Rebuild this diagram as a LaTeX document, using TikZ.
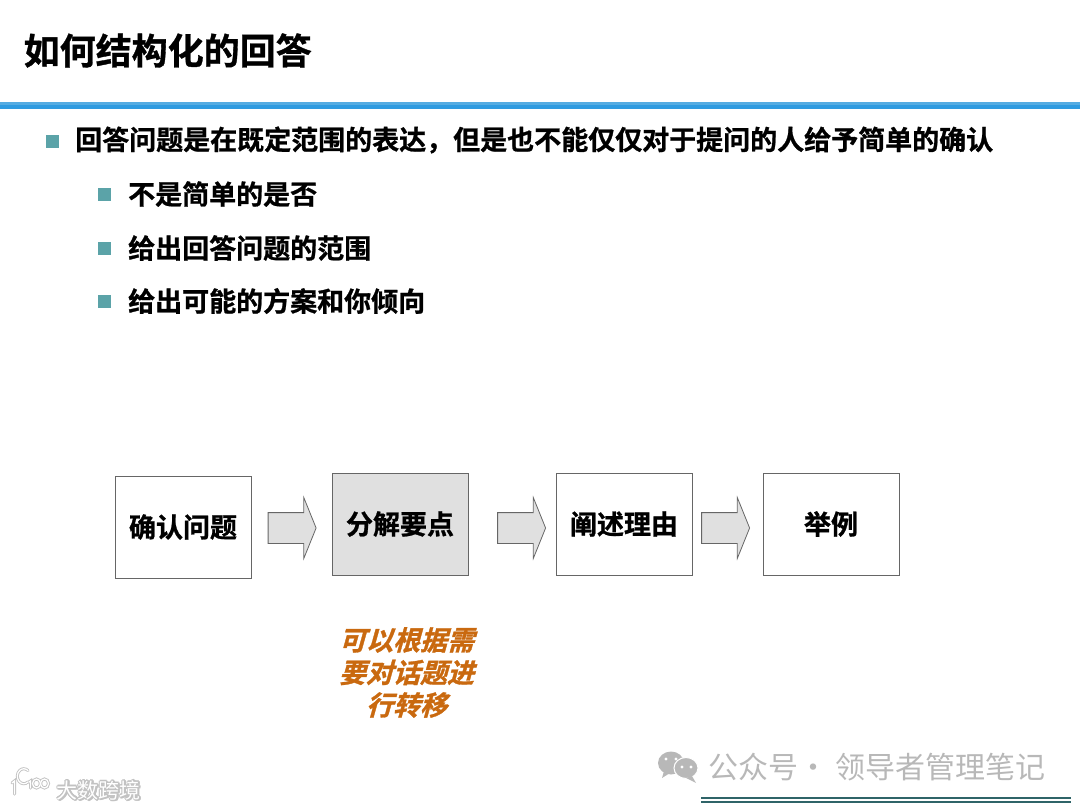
\documentclass[tikz,border=0pt]{standalone}
\usepackage{fontspec}
\setmainfont{Noto Sans CJK SC}[BoldFont={* Bold},BoldFeatures={FakeBold=0.9}]
\newfontfamily\cjkslant{Noto Sans CJK SC Bold}[FakeSlant=0.28,FakeBold=1.1]
\usetikzlibrary{shapes.arrows,positioning}
\definecolor{rulelight}{HTML}{55ACE2}
\definecolor{ruleblue}{HTML}{2F9BE0}
\definecolor{ruledark}{HTML}{2F6468}
\definecolor{bulletteal}{HTML}{5BA3A8}
\definecolor{boxedge}{HTML}{666666}
\definecolor{boxgray}{HTML}{E0E0E0}
\definecolor{talkorange}{HTML}{C9690F}
\definecolor{markgray}{HTML}{B8B8B8}
\tikzset{
  headline/.style={anchor=west, inner sep=0pt, font=\fontsize{36}{36}\selectfont\bfseries, text=black},
  bulletline/.style={anchor=west, inner sep=0pt, font=\fontsize{27}{27}\selectfont\bfseries, text=black},
  bulletsq/.style={fill=bulletteal, draw=none, minimum size=13pt, inner sep=0pt},
  stepbox/.style={draw=boxedge, line width=0.9pt, minimum width=136pt, minimum height=102pt,
    inner sep=0pt, font=\fontsize{27}{27}\selectfont\bfseries, text=black},
  blockarrow/.style={shape=single arrow, draw=boxedge, fill=boxgray, line width=0.8pt,
    minimum height=48pt, minimum width=60pt, inner sep=0pt,
    single arrow head extend=15pt, single arrow tip angle=136},
  talknote/.style={align=center, inner sep=0pt, text=talkorange,
    font=\fontsize{27}{32.5}\selectfont\cjkslant},
  markline/.style={anchor=west, inner sep=0pt, text=markgray, font=\fontsize{30}{30}\selectfont},
  logoshade/.style={inner sep=0pt, text=black!24, font=\fontsize{21}{21}\selectfont\bfseries},
  logoface/.style={inner sep=0pt, text=white, font=\fontsize{21}{21}\selectfont},
  logolineunder/.style={draw=black!25, line width=3pt, line cap=round},
  logolinetop/.style={draw=white, line width=1.3pt, line cap=round},
}
\begin{document}
\begin{tikzpicture}[x=1pt,y=-1pt]
  \useasboundingbox (0,0) rectangle (1080,810);
  % title and rule
  \node[headline] (title) at (23.5,50.5) {如何结构化的回答};
  \fill[rulelight] (0,102.5) rectangle (1080,104.7);
  \fill[ruleblue] (0,105.3) rectangle (1080,109);
  % bullets
  \node[bulletsq] (mainsq) at (52,141.5) {};
  \node[bulletline] (mainline) at (75,140) {回答问题是在既定范围的表达^^^^ff0c但是也不能仅仅对于提问的人给予简单的确认};
  \foreach \n/\y/\t in {a/194/不是简单的是否,b/248/给出回答问题的范围,c/301/给出可能的方案和你倾向} {
    \node[bulletsq] (subsq\n) at (104.5,\y+0.5) {};
    \node[bulletline] (subline\n) at (128,\y) {\t};
  }
  % steps
  \node[stepbox] (confirm) at (183,527) {确认问题};
  \node[stepbox, fill=boxgray] (split) at (400,524) {分解要点};
  \node[stepbox] (reason) at (624,524) {阐述理由};
  \node[stepbox] (sample) at (831,524) {举例};
  \node[blockarrow] (arrowa) at (289,528) {\rule{0pt}{30pt}};
  \node[blockarrow] (arrowb) at (518.5,528) {\rule{0pt}{30pt}};
  \node[blockarrow] (arrowc) at (722.5,528) {\rule{0pt}{30pt}};
  \node[talknote] (talk) at (406.5,672.5) {可以根据需\\要对话题进\\行转移};
  % footer marks
  \fill[markgray] (671,763) ellipse (13 and 11.5);
  \draw[white, fill=markgray, line width=1pt] (686,768) ellipse (12 and 10.5);
  \fill[markgray] (664,771) -- (662,778) -- (670,773) -- cycle;
  \fill[markgray] (692,776) -- (696,783) -- (686,778) -- cycle;
  \foreach \x/\y in {666/759,676/759,682/767,691/767} {\fill[white] (\x,\y) circle (1.7);}
  \node[markline] (mark) at (708,767) {公众号\kern-6pt{} · \kern0pt{}领导者管理笔记};
  \fill[ruledark] (701,797.3) rectangle (1071,799.3);
  \fill[ruledark] (701,801.3) rectangle (1071,803.3);
  % corner logo
  \foreach \dx/\dy in {-1/0,1/0,0/-1,0/1,1/1} {
    \node[logoshade] at (98.5+\dx,790+\dy) {大数跨境};
  }
  \node[logoface] (logotext) at (98.5,790) {大数跨境};
  \foreach \s in {logolineunder,logolinetop} {
    \draw[\s] (12,783) -- (14.5,781) -- (14.5,794);
    \draw[\s] (28,782) arc (50:310:6.5 and 7.5);
    \draw[\s] (29,782) -- (30.5,781) -- (30.5,788);
    \draw[\s] (36.5,783.5) ellipse (4 and 4.5);
    \draw[\s] (44.5,783.5) ellipse (4 and 4.5);
  }
\end{tikzpicture}
\end{document}
